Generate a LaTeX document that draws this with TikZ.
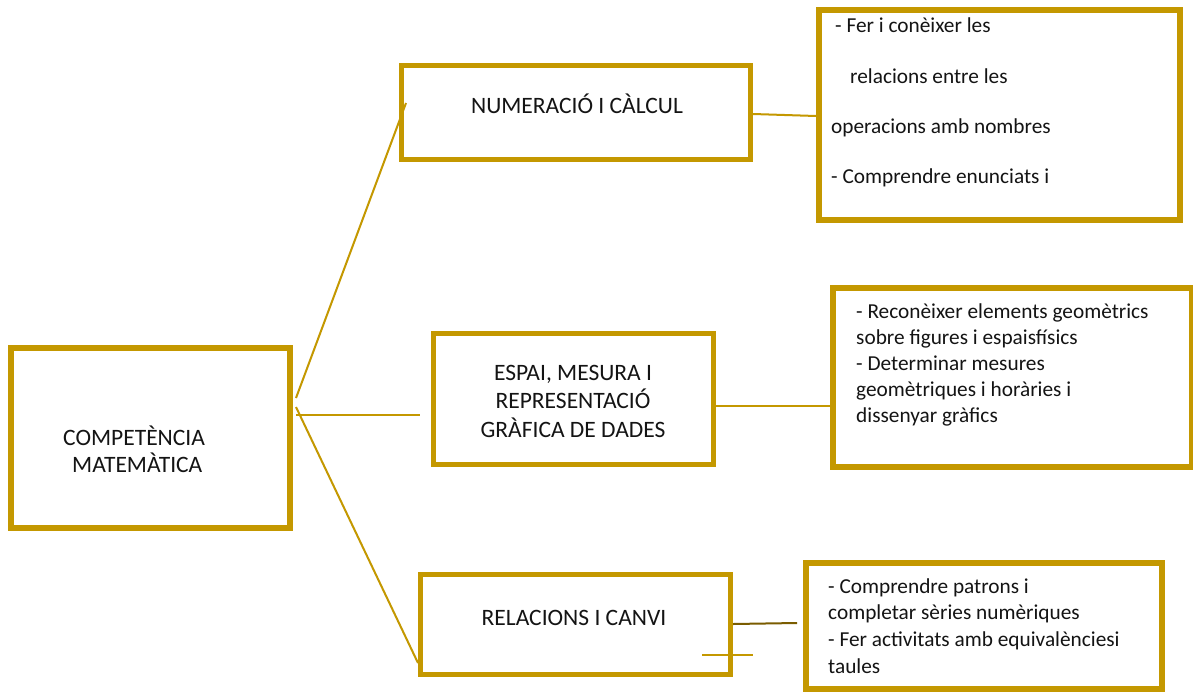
\documentclass[tikz,border=0pt]{standalone}
\usepackage{fontspec}
\setmainfont{Carlito}
\usetikzlibrary{calc}
\definecolor{gold}{RGB}{196,152,0}
\definecolor{darkgold}{RGB}{122,92,0}
\definecolor{ink}{RGB}{20,20,20}
\newcommand{\captext}{\fontsize{23.5}{28}\selectfont}
\newcommand{\desctext}{\fontsize{21.3}{26}\selectfont}
\begin{document}
\begin{tikzpicture}[x=1pt,y=-1pt,
  box/.style={draw=gold, line width=#1, fill=white, inner sep=0pt, rectangle},
  box/.default=6,
  conn/.style={draw=gold, line width=2},
  darkconn/.style={draw=darkgold, line width=2},
  caplabel/.style={inner sep=0pt, anchor=base, font=\captext, text=ink},
  capline/.style={inner sep=0pt, anchor=base west, font=\captext, text=ink},
  desc/.style={inner sep=0pt, anchor=base west, font=\desctext, text=ink}]
\fill[white] (0,0) rectangle (1193,693);
\useasboundingbox (0,0) rectangle (1193,693);

% boxes
\node[box=6, minimum width=279, minimum height=180] (comp) at (150.5,438) {};
\node[box=5, minimum width=349, minimum height=94] (num) at (576,112.5) {};
\node[box=6, minimum width=361, minimum height=210] (numd) at (999.5,115) {};
\node[box=5, minimum width=280, minimum height=131] (esp) at (573.5,399) {};
\node[box=6, minimum width=359, minimum height=179] (espd) at (1012.5,377.5) {};
\node[box=5, minimum width=310, minimum height=100] (rel) at (575.5,624.5) {};
\node[box=6, minimum width=356, minimum height=126] (reld) at (984,626) {};

% connectors
\draw[conn] ($(comp.east)+(3,-40)$) -- ($(num.west)+(7,-9.5)$);
\draw[conn] ($(comp.east)+(3,-23)$) -- ($(esp.west)+(-11,16)$);
\draw[conn] ($(comp.east)+(3,-31)$) -- ($(rel.west)+(0,38.5)$);
\draw[conn] ($(num.east)+(0,1.5)$) -- ($(numd.west)+(0,1)$);
\draw[conn] ($(esp.east)+(0,7)$) -- ($(espd.west)+(0,28.5)$);
\draw[darkconn] ($(rel.east)+(0,-0.5)$) -- ($(reld.west)+(-6,-3)$);
\coordinate (stubA) at ($(rel.east)+(-31,30.5)$);
\coordinate (stubB) at ($(rel.east)+(20,30.5)$);
\draw[conn] (stubA) -- (stubB);

% main labels
\node[capline] (compt1) at (63,445) {COMPETÈNCIA};
\node[capline] (compt2) at (72,472) {MATEMÀTICA};
\node[caplabel] (numt) at (577,113) {NUMERACIÓ I CÀLCUL};
\node[caplabel] (espt1) at (573,380) {ESPAI, MESURA I};
\node[caplabel] (espt2) at (573,408) {REPRESENTACIÓ};
\node[caplabel] (espt3) at (573,437) {GRÀFICA DE DADES};
\node[caplabel] (relt) at (574,625) {RELACIONS I CANVI};

% description texts
\foreach \txt [count=\i] in {{\hspace{4pt}- Fer i conèixer les},{\hspace{19pt}relacions entre les},{operacions amb nombres},{- Comprendre enunciats i}}
  \node[desc] (numdt\i) at (831,{33+50*(\i-1)}) {\txt};
\foreach \txt [count=\i] in {{- Reconèixer elements geomètrics},{sobre figures i espaisfísics},{- Determinar mesures},{geomètriques i horàries i},{dissenyar gràfics}}
  \node[desc] (espdt\i) at (856,{318+26.2*(\i-1)}) {\txt};
\foreach \txt [count=\i] in {{- Comprendre patrons i},{completar sèries numèriques},{- Fer activitats amb equivalènciesi},{taules}}
  \node[desc] (reldt\i) at (828,{593+26.7*(\i-1)}) {\txt};
\end{tikzpicture}
\end{document}
